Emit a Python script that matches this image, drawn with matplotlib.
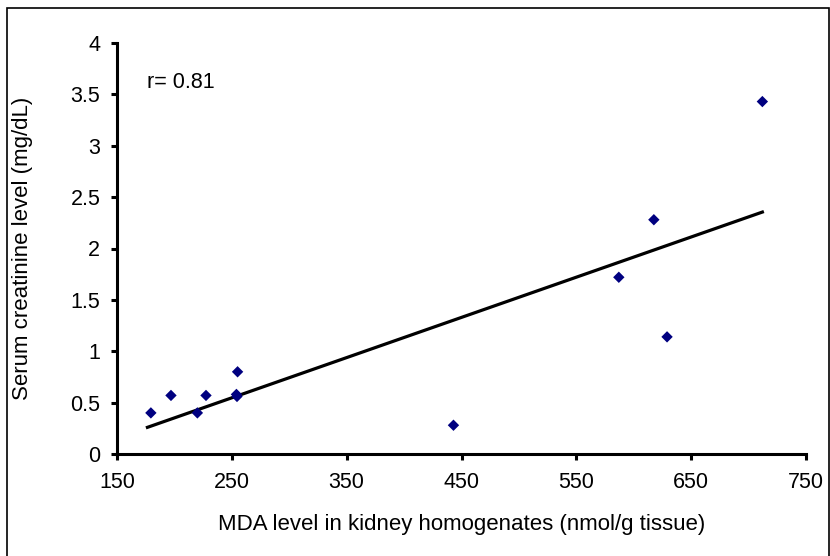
import matplotlib
matplotlib.use("Agg")
import matplotlib.pyplot as plt
from matplotlib.patches import Rectangle
import numpy as np

plt.rcParams['font.family'] = ['Liberation Sans', 'DejaVu Sans']

# Data
mda = [179.5, 197, 220, 227.5, 254, 254.5, 255, 443, 587, 617.5, 629, 712]
creatinine = [0.40, 0.57, 0.40, 0.57, 0.58, 0.56, 0.80, 0.28, 1.72, 2.28, 1.14, 3.43]
x_ticks = [150, 250, 350, 450, 550, 650, 750]
y_ticks = [0, 0.5, 1, 1.5, 2, 2.5, 3, 3.5, 4]
y_tick_labels = ["0", "0.5", "1", "1.5", "2", "2.5", "3", "3.5", "4"]
r_text = "r= 0.81"

W, H = 830, 556
FS = 15.5
fig = plt.figure(figsize=(W / 100, H / 100), dpi=100)
ax = fig.add_axes([117 / W, 1 - 454 / H, (806 - 117) / W, (454 - 43) / H])

ax.scatter(mda, creatinine, marker='D', s=5.8 ** 2, color='#000080',
           edgecolors='none', zorder=3, clip_on=False)

coef = np.polyfit(mda, creatinine, 1)
xs = np.array([min(mda) - 3, max(mda)])
ax.plot(xs, np.polyval(coef, xs), color='black', lw=2.3, zorder=2)

ax.set_xlim(150, 750)
ax.set_ylim(0, 4)
ax.set_xticks(x_ticks)
ax.set_yticks(y_ticks)
ax.set_yticklabels(y_tick_labels)

for s in ['top', 'right']:
    ax.spines[s].set_visible(False)
for s in ['left', 'bottom']:
    ax.spines[s].set_linewidth(2.2)
ax.tick_params(axis='both', direction='out', length=4, width=2.2, labelsize=FS)
ax.tick_params(axis='x', pad=9)
ax.tick_params(axis='y', pad=8)

ax.set_xlabel("MDA level in kidney homogenates (nmol/g tissue)", fontsize=FS + 0.5, labelpad=15)
ax.set_ylabel("Serum creatinine level (mg/dL)", fontsize=FS + 0.5, labelpad=27)

ax.text(0.044, 0.905, r_text, transform=ax.transAxes, fontsize=FS,
        ha='left', va='center')

fig.patches.append(Rectangle((7 / W, -0.05), (829 - 7) / W, 1 - 8 / H + 0.05,
                             transform=fig.transFigure, fill=False,
                             edgecolor='black', lw=1.2))

fig.savefig("out.png", dpi=100)
